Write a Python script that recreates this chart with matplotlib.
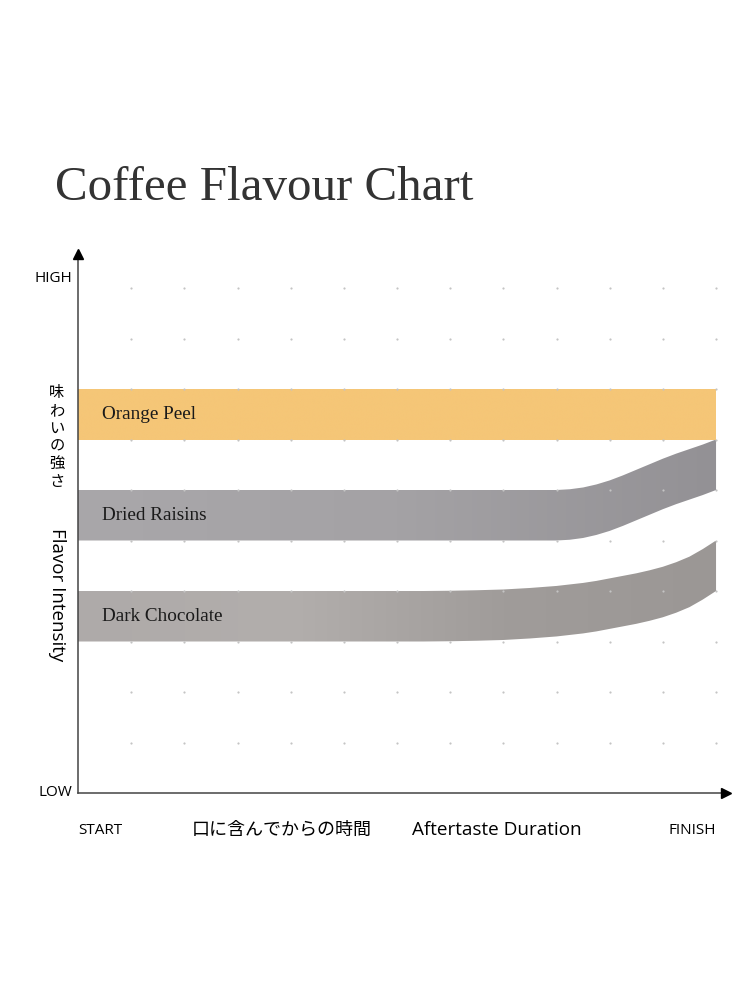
import numpy as np
import matplotlib
matplotlib.use("Agg")
import matplotlib.pyplot as plt
from matplotlib.colors import LinearSegmentedColormap

# time along the aftertaste (grid units) and the lower edge of each flavour band
time = [0, 1, 2, 3, 4, 5, 6, 6.5, 7, 7.5, 8, 8.5, 9, 9.25, 9.5, 9.75,
        10, 10.25, 10.5, 10.75, 11, 11.25, 11.5, 11.75, 12]
orange_low = [7, 7, 7, 7, 7, 7, 7, 7, 7, 7, 7, 7, 7, 7, 7, 7,
              7, 7, 7, 7, 7, 7, 7, 7, 7]
raisins_low = [5, 5, 5, 5, 5, 5, 5, 5, 5, 5, 5, 5, 5, 5.015, 5.05, 5.11,
               5.19, 5.29, 5.4, 5.51, 5.62, 5.72, 5.81, 5.9, 6.0]
chocolate_low = [3, 3, 3, 3, 3, 3, 3, 3, 3.005, 3.015, 3.03, 3.06, 3.1, 3.13, 3.16, 3.2,
                 3.25, 3.3, 3.35, 3.41, 3.48, 3.57, 3.68, 3.83, 4.0]
band_height = 1.0

flavours = ["Orange Peel", "Dried Raisins", "Dark Chocolate"]
lows = [orange_low, raisins_low, chocolate_low]
colours = [
    ["#F5C677", "#F5C677"],
    ["#A9A7AA", "#A4A2A5", "#939195"],
    ["#AEAAA9", "#B2AEAC", "#A09C9A", "#9B9795"],
]

grid_x = [1, 2, 3, 4, 5, 6, 7, 8, 9, 10, 11, 12]
grid_y = [1, 2, 3, 4, 5, 6, 7, 8, 9, 10]

fig = plt.figure(figsize=(7.5, 10), dpi=100)
ax = fig.add_axes([78 / 750, 207 / 1000, 12.5 * 53.17 / 750, 10.9 * 50.5 / 1000])
ax.set_xlim(0, 12.5)
ax.set_ylim(0, 10.9)
ax.axis("off")

# bands with horizontal gradient
for name, low, cols in zip(flavours, lows, colours):
    low = np.array(low, dtype=float)
    high = low + band_height
    poly = ax.fill_between(time, low, high, color="none", lw=0)
    cmap = LinearSegmentedColormap.from_list(name, cols)
    grad = np.linspace(0, 1, 256).reshape(1, -1)
    im = ax.imshow(grad, cmap=cmap, aspect="auto", interpolation="bicubic",
                   extent=[time[0], time[-1], low.min(), high.max()], zorder=2)
    im.set_clip_path(poly.get_paths()[0], transform=ax.transData)
    ax.text(0.45, low[0] + band_height / 2, name, family="Liberation Serif",
            fontsize=13.8, color="#1a1a1a", va="center", ha="left", zorder=4)

# dotted grid
gx, gy = np.meshgrid(grid_x, grid_y)
ax.scatter(gx.ravel(), gy.ravel(), s=2.5, color="#C4C4C4", lw=0, zorder=3)

# axes with arrows
axis_col = "#444444"
ax.plot([0, 0], [0, 10.6], color=axis_col, lw=1.1, clip_on=False, zorder=5)
ax.plot([0, 12.15], [0, 0], color=axis_col, lw=1.1, clip_on=False, zorder=5)
ax.plot(0, 10.68, marker="^", ms=7, color="black", clip_on=False, zorder=5)
ax.plot(12.19, 0, marker=">", ms=7, color="black", clip_on=False, zorder=5)

sans = ["Open Sans", "Noto Sans CJK JP"]
jp = ["Noto Sans CJK JP", "DejaVu Sans"]
fig.text(72 / 750, 1 - 278 / 1000, "HIGH", family=sans, fontsize=11, ha="right", va="center")
fig.text(72 / 750, 1 - 793 / 1000, "LOW", family=sans, fontsize=11, ha="right", va="center")
fig.text(100 / 750, 1 - 830 / 1000, "START", family=sans, fontsize=11, ha="center", va="center")
fig.text(692 / 750, 1 - 830 / 1000, "FINISH", family=sans, fontsize=11, ha="center", va="center")
fig.text(282 / 750, 1 - 830 / 1000, "口に含んでからの時間", family=jp, fontsize=13, ha="center", va="center")
fig.text(497 / 750, 1 - 830 / 1000, "Aftertaste Duration", family=sans, fontsize=13.6, ha="center", va="center")

fig.text(57 / 750, 1 - 437 / 1000, "\n".join("味わいの強さ"), family=jp, fontsize=11,
         ha="center", va="center", linespacing=1.05)
fig.text(57 / 750, 1 - 595 / 1000, "Flavor Intensity", family=sans, fontsize=13.5,
         rotation=-90, ha="center", va="center")

fig.text(55 / 750, 1 - 188 / 1000, "Coffee Flavour Chart", family="Liberation Serif",
         fontsize=35.3, color="#333333", ha="left", va="center")

fig.savefig("out.png", dpi=100)
